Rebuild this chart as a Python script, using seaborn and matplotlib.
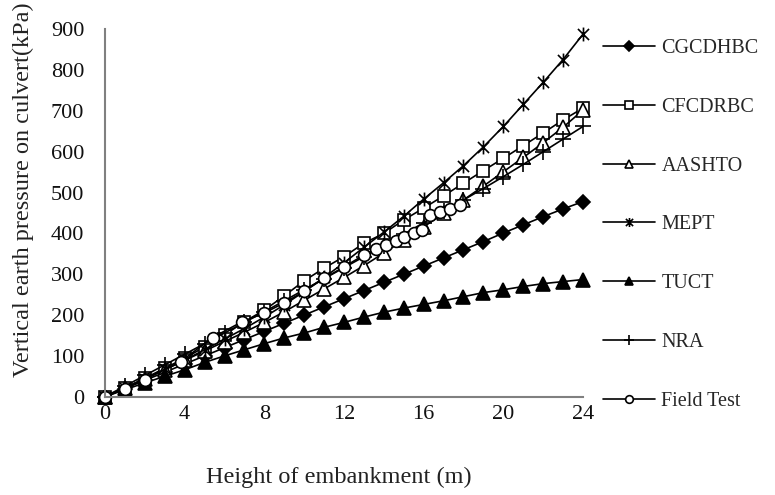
import numpy as np
import pandas as pd
import matplotlib
matplotlib.use("Agg")
import matplotlib.pyplot as plt
from matplotlib.path import Path
import seaborn as sns

heights = [0, 1, 2, 3, 4, 5, 6, 7, 8, 9, 10, 11, 12, 13, 14, 15, 16, 17, 18, 19, 20, 21, 22, 23, 24]

cgcdhbc = [0, 20, 40, 60, 80, 100, 120, 140, 160, 180, 200, 220, 240, 260, 280, 300, 320, 340, 360, 380, 401, 421, 441, 460, 478]
cfcdrbc = [0, 21, 45, 70, 94, 122, 151, 184, 212, 247, 284, 315, 343, 376, 400, 433, 462, 492, 523, 554, 584, 615, 646, 678, 707]
aashto = [0, 22, 44, 66, 89, 112, 135, 158, 182, 208, 236, 264, 292, 321, 352, 384, 416, 449, 482, 516, 551, 586, 622, 660, 702]
mept = [0, 22, 44, 67, 90, 115, 141, 167, 195, 225, 258, 292, 328, 366, 403, 442, 484, 524, 566, 612, 662, 716, 770, 826, 888]
tuct = [0, 17, 34, 50, 66, 84, 100, 115, 130, 144, 156, 170, 182, 195, 207, 217, 226, 235, 245, 255, 262, 270, 277, 282, 287]
nra = [0, 26, 52, 78, 104, 130, 156, 182, 208, 235, 262, 289, 316, 343, 370, 398, 426, 454, 482, 510, 539, 569, 600, 631, 662]

field_heights = [0, 1, 2, 3.8, 5.4, 6.9, 8.0, 9.0, 10.0, 11.0, 12.0, 13.0, 13.6, 14.1, 14.6, 15.0, 15.5, 15.9, 16.3, 16.8, 17.3, 17.8]
field_test = [0, 20, 42, 86, 145, 184, 205, 230, 258, 290, 318, 347, 362, 372, 382, 392, 400, 408, 445, 453, 460, 470]

x_ticks = [0, 4, 8, 12, 16, 20, 24]
y_ticks = [0, 100, 200, 300, 400, 500, 600, 700, 800, 900]

sns.set_theme(style="white")
plt.rcParams["font.family"] = ["Liberation Serif", "DejaVu Serif"]

star = Path([(-1, -1), (1, 1), (-1, 1), (1, -1), (0, -1.25), (0, 1.25)],
            [Path.MOVETO, Path.LINETO, Path.MOVETO, Path.LINETO, Path.MOVETO, Path.LINETO])

fig = plt.figure(figsize=(7.75, 4.95), dpi=100)
ax = fig.add_axes([105 / 775, 1 - 396.7 / 495, 478 / 775, 367.4 / 495])

series = [
    ("CGCDHBC", heights, cgcdhbc, dict(marker="D", ms=7.5, mfc="black")),
    ("CFCDRBC", heights, cfcdrbc, dict(marker="s", ms=8.5, mfc="white")),
    ("AASHTO", heights, aashto, dict(marker="^", ms=9.5, mfc="white")),
    ("MEPT", heights, mept, dict(marker=star, ms=10, mfc="none")),
    ("TUCT", heights, tuct, dict(marker="^", ms=9.5, mfc="black")),
    ("NRA", heights, nra, dict(marker="+", ms=11, mfc="none")),
    ("Field Test", field_heights, field_test, dict(marker="o", ms=8.5, mfc="white")),
]

for name, xs, ys, st in series:
    df = pd.DataFrame({"h": xs, "p": ys})
    sns.lineplot(data=df, x="h", y="p", ax=ax, color="black", linewidth=1.2,
                 markeredgecolor="black", markeredgewidth=1.2, label=name,
                 clip_on=False, legend=False, **st)

ax.set_xlim(0, 24)
ax.set_ylim(0, 900)
ax.set_xticks(x_ticks)
ax.set_yticks(y_ticks)
ax.set_xticklabels([str(t) for t in x_ticks])
ax.set_yticklabels([str(t) for t in y_ticks])

for s in ["top", "right"]:
    ax.spines[s].set_visible(False)
for s in ["left", "bottom"]:
    ax.spines[s].set_color("#808080")
    ax.spines[s].set_linewidth(1.5)

ax.tick_params(axis="both", direction="in", length=5, width=1.2, color="#606060",
               labelsize=16, labelcolor="#111111")
ax.tick_params(axis="y", pad=15)
ax.tick_params(axis="x", pad=6)

ax.set_xlabel("Height of embankment (m)", fontsize=17.5, color="#222222")
ax.set_ylabel("Vertical earth pressure on culvert(kPa)", fontsize=17.5, color="#222222")
ax.xaxis.set_label_coords(0.49, -0.192)
ax.yaxis.set_label_coords(-0.148, 0.563)

handles, labels = ax.get_legend_handles_labels()
fig.legend(handles, labels, loc="upper left", bbox_to_anchor=(603 / 775, 1 - 39 / 495),
           frameon=False, borderaxespad=0, borderpad=0, fontsize=14.5,
           labelspacing=1.97, handlelength=2.6, handletextpad=0.3, markerscale=0.65)

fig.savefig("out.png", dpi=100)
